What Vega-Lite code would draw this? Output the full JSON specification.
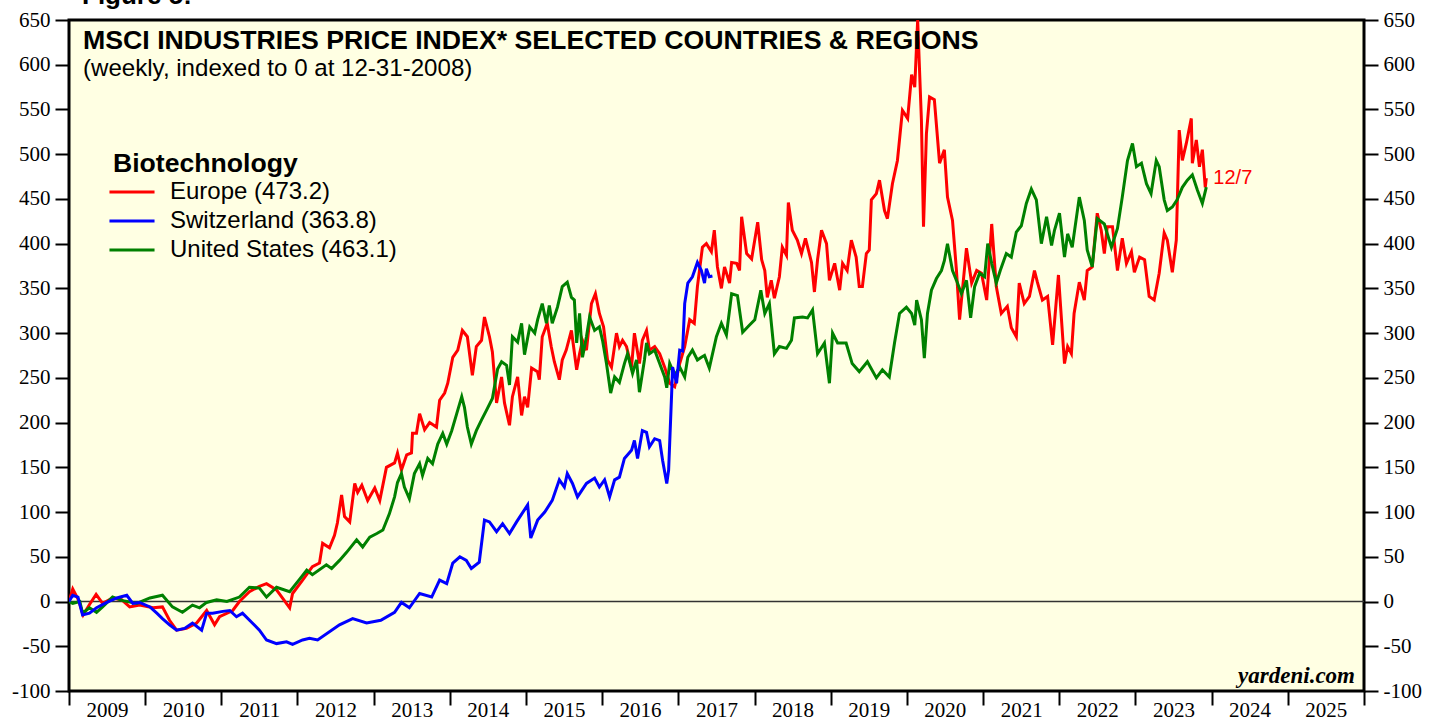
{
 "$schema": "https://vega.github.io/schema/vega-lite/v6.json",
 "width": 1295,
 "height": 671,
 "autosize": {"type": "none"},
 "padding": {"left": 69, "top": 20, "right": 65, "bottom": 30},
 "background": "white",
 "config": {
  "view": {"fill": "#FFFFE3", "stroke": "#000000", "strokeWidth": 3},
  "axis": {"labelFont": "Liberation Serif", "labelFontSize": 21, "labelColor": "#000000", "tickColor": "#000000", "tickWidth": 2, "tickSize": 14, "domain": false, "grid": false, "title": null}
 },
 "datasets": {
  "eu": [
   {"d":"2009-01-01","v":0},{"d":"2009-01-19","v":14},{"d":"2009-02-15","v":2},{"d":"2009-03-10","v":-15},{"d":"2009-04-10","v":-3},{"d":"2009-05-11","v":8},{"d":"2009-06-11","v":-2},{"d":"2009-07-29","v":4},{"d":"2009-09-10","v":2},{"d":"2009-10-19","v":-6},{"d":"2009-12-06","v":-4},
   {"d":"2010-02-08","v":-7},{"d":"2010-03-25","v":-6},{"d":"2010-04-28","v":-21},{"d":"2010-06-01","v":-32},{"d":"2010-07-18","v":-30},{"d":"2010-09-05","v":-24},{"d":"2010-10-23","v":-10},{"d":"2010-11-30","v":-26},{"d":"2010-12-24","v":-17},
   {"d":"2011-02-25","v":-10},{"d":"2011-03-29","v":0},{"d":"2011-05-16","v":11},{"d":"2011-07-03","v":17},{"d":"2011-08-06","v":20},{"d":"2011-09-23","v":13},{"d":"2011-11-25","v":-7},{"d":"2011-12-09","v":9},
   {"d":"2012-01-26","v":24},{"d":"2012-03-13","v":39},{"d":"2012-04-16","v":43},{"d":"2012-05-01","v":65},{"d":"2012-06-03","v":60},{"d":"2012-06-27","v":74},{"d":"2012-07-11","v":88},{"d":"2012-07-31","v":119},{"d":"2012-08-14","v":95},{"d":"2012-09-08","v":89},{"d":"2012-10-02","v":132},{"d":"2012-10-16","v":122},{"d":"2012-11-05","v":130},{"d":"2012-12-03","v":113},
   {"d":"2013-01-06","v":127},{"d":"2013-01-30","v":113},{"d":"2013-03-03","v":150},{"d":"2013-04-11","v":155},{"d":"2013-04-25","v":166},{"d":"2013-05-14","v":147},{"d":"2013-06-08","v":164},{"d":"2013-07-01","v":166},{"d":"2013-07-06","v":188},{"d":"2013-07-25","v":188},{"d":"2013-08-09","v":210},{"d":"2013-09-02","v":192},{"d":"2013-09-26","v":200},{"d":"2013-10-29","v":195},{"d":"2013-11-13","v":225},{"d":"2013-12-07","v":233},{"d":"2013-12-22","v":244},
   {"d":"2014-01-15","v":273},{"d":"2014-02-08","v":281},{"d":"2014-03-02","v":303},{"d":"2014-03-26","v":296},{"d":"2014-04-19","v":253},{"d":"2014-05-08","v":285},{"d":"2014-06-02","v":292},{"d":"2014-06-16","v":318},{"d":"2014-07-10","v":296},{"d":"2014-07-24","v":279},{"d":"2014-08-13","v":222},{"d":"2014-09-06","v":251},{"d":"2014-09-20","v":222},{"d":"2014-10-14","v":197},{"d":"2014-10-28","v":229},{"d":"2014-11-22","v":251},{"d":"2014-12-11","v":208},{"d":"2014-12-25","v":229},
   {"d":"2015-01-09","v":217},{"d":"2015-01-28","v":261},{"d":"2015-02-25","v":257},{"d":"2015-03-06","v":248},{"d":"2015-03-20","v":296},{"d":"2015-04-13","v":311},{"d":"2015-05-02","v":285},{"d":"2015-05-17","v":268},{"d":"2015-06-10","v":248},{"d":"2015-06-24","v":270},{"d":"2015-07-13","v":281},{"d":"2015-08-07","v":303},{"d":"2015-09-01","v":259},{"d":"2015-09-15","v":277},{"d":"2015-09-29","v":292},{"d":"2015-10-18","v":281},{"d":"2015-11-11","v":333},{"d":"2015-11-30","v":344},{"d":"2015-12-19","v":322},
   {"d":"2016-01-08","v":307},{"d":"2016-01-27","v":270},{"d":"2016-02-15","v":262},{"d":"2016-03-10","v":300},{"d":"2016-03-24","v":285},{"d":"2016-04-08","v":292},{"d":"2016-04-27","v":285},{"d":"2016-05-21","v":262},{"d":"2016-06-04","v":300},{"d":"2016-06-28","v":266},{"d":"2016-07-12","v":292},{"d":"2016-08-01","v":303},{"d":"2016-08-15","v":281},{"d":"2016-09-09","v":285},{"d":"2016-10-03","v":277},{"d":"2016-10-27","v":262},{"d":"2016-11-20","v":244},{"d":"2016-12-14","v":240},
   {"d":"2017-01-07","v":266},{"d":"2017-01-31","v":285},{"d":"2017-02-24","v":315},{"d":"2017-03-18","v":311},{"d":"2017-04-02","v":352},{"d":"2017-04-26","v":396},{"d":"2017-05-15","v":400},{"d":"2017-06-08","v":391},{"d":"2017-06-22","v":415},{"d":"2017-07-07","v":374},{"d":"2017-07-26","v":350},{"d":"2017-08-10","v":374},{"d":"2017-09-03","v":356},{"d":"2017-09-13","v":379},{"d":"2017-10-07","v":378},{"d":"2017-10-21","v":370},{"d":"2017-10-31","v":430},{"d":"2017-11-24","v":389},{"d":"2017-12-18","v":383},
   {"d":"2018-01-16","v":424},{"d":"2018-02-04","v":382},{"d":"2018-02-19","v":370},{"d":"2018-03-03","v":340},{"d":"2018-03-22","v":359},{"d":"2018-04-06","v":339},{"d":"2018-04-30","v":363},{"d":"2018-05-14","v":396},{"d":"2018-06-03","v":387},{"d":"2018-06-12","v":446},{"d":"2018-07-01","v":415},{"d":"2018-07-25","v":404},{"d":"2018-08-14","v":389},{"d":"2018-09-02","v":406},{"d":"2018-10-01","v":379},{"d":"2018-10-15","v":346},{"d":"2018-10-30","v":382},{"d":"2018-11-18","v":415},{"d":"2018-12-12","v":400},{"d":"2018-12-26","v":359},
   {"d":"2019-01-20","v":378},{"d":"2019-02-13","v":348},{"d":"2019-02-27","v":378},{"d":"2019-03-21","v":370},{"d":"2019-04-10","v":404},{"d":"2019-05-03","v":385},{"d":"2019-05-18","v":352},{"d":"2019-06-02","v":352},{"d":"2019-06-21","v":389},{"d":"2019-07-05","v":393},{"d":"2019-07-15","v":449},{"d":"2019-08-08","v":456},{"d":"2019-08-23","v":471},{"d":"2019-09-16","v":437},{"d":"2019-09-30","v":428},{"d":"2019-10-24","v":467},{"d":"2019-11-17","v":493},{"d":"2019-12-11","v":549},
   {"d":"2020-01-05","v":540},{"d":"2020-01-24","v":589},{"d":"2020-02-08","v":575},{"d":"2020-02-22","v":650},{"d":"2020-03-11","v":538},{"d":"2020-03-21","v":419},{"d":"2020-04-04","v":523},{"d":"2020-04-19","v":564},{"d":"2020-05-12","v":561},{"d":"2020-06-06","v":490},{"d":"2020-06-29","v":505},{"d":"2020-07-14","v":452},{"d":"2020-08-07","v":426},{"d":"2020-08-26","v":370},{"d":"2020-09-10","v":315},{"d":"2020-10-13","v":395},{"d":"2020-11-07","v":356},{"d":"2020-12-01","v":370},{"d":"2020-12-24","v":367},
   {"d":"2021-01-18","v":337},{"d":"2021-02-11","v":422},{"d":"2021-03-05","v":352},{"d":"2021-03-29","v":322},{"d":"2021-04-27","v":330},{"d":"2021-05-16","v":306},{"d":"2021-06-09","v":296},{"d":"2021-06-23","v":356},{"d":"2021-07-17","v":333},{"d":"2021-08-11","v":341},{"d":"2021-09-04","v":370},{"d":"2021-09-18","v":357},{"d":"2021-10-12","v":337},{"d":"2021-11-06","v":341},{"d":"2021-11-30","v":287},{"d":"2021-12-28","v":365},
   {"d":"2022-01-26","v":266},{"d":"2022-02-10","v":285},{"d":"2022-02-28","v":277},{"d":"2022-03-13","v":322},{"d":"2022-04-07","v":357},{"d":"2022-05-01","v":337},{"d":"2022-05-15","v":370},{"d":"2022-06-08","v":374},{"d":"2022-07-02","v":434},{"d":"2022-07-21","v":415},{"d":"2022-08-05","v":389},{"d":"2022-08-19","v":419},{"d":"2022-09-13","v":419},{"d":"2022-10-07","v":370},{"d":"2022-10-30","v":406},{"d":"2022-11-19","v":378},{"d":"2022-12-13","v":391},{"d":"2022-12-27","v":368},
   {"d":"2023-01-21","v":385},{"d":"2023-02-14","v":382},{"d":"2023-03-08","v":341},{"d":"2023-04-01","v":337},{"d":"2023-04-25","v":367},{"d":"2023-05-19","v":412},{"d":"2023-06-03","v":404},{"d":"2023-06-27","v":368},{"d":"2023-07-16","v":404},{"d":"2023-07-30","v":527},{"d":"2023-08-14","v":493},{"d":"2023-09-02","v":512},{"d":"2023-09-26","v":540},{"d":"2023-10-01","v":490},{"d":"2023-10-20","v":516},{"d":"2023-11-04","v":486},{"d":"2023-11-18","v":505},{"d":"2023-12-02","v":463},{"d":"2023-12-07","v":473.2}
  ],
  "us": [
   {"d":"2009-01-01","v":0},{"d":"2009-01-19","v":-2},{"d":"2009-02-22","v":0},{"d":"2009-03-07","v":-13},{"d":"2009-04-09","v":-7},{"d":"2009-05-13","v":-12},{"d":"2009-06-11","v":-6},{"d":"2009-07-29","v":5},{"d":"2009-09-16","v":1},{"d":"2009-11-22","v":-2},
   {"d":"2010-01-24","v":4},{"d":"2010-03-25","v":7},{"d":"2010-05-12","v":-6},{"d":"2010-06-29","v":-12},{"d":"2010-08-16","v":-4},{"d":"2010-09-19","v":-7},{"d":"2010-10-23","v":-1},{"d":"2010-12-10","v":2},
   {"d":"2011-01-28","v":0},{"d":"2011-03-29","v":5},{"d":"2011-05-16","v":16},{"d":"2011-07-03","v":15},{"d":"2011-08-06","v":5},{"d":"2011-09-23","v":16},{"d":"2011-11-25","v":11},
   {"d":"2012-01-12","v":25},{"d":"2012-02-15","v":35},{"d":"2012-03-13","v":30},{"d":"2012-05-19","v":41},{"d":"2012-06-13","v":37},{"d":"2012-07-21","v":46},{"d":"2012-08-24","v":55},{"d":"2012-10-11","v":69},{"d":"2012-11-09","v":61},{"d":"2012-12-13","v":72},
   {"d":"2013-01-16","v":76},{"d":"2013-02-14","v":80},{"d":"2013-03-17","v":98},{"d":"2013-04-11","v":117},{"d":"2013-04-25","v":133},{"d":"2013-05-14","v":143},{"d":"2013-05-28","v":128},{"d":"2013-06-21","v":115},{"d":"2013-07-15","v":143},{"d":"2013-08-09","v":154},{"d":"2013-08-23","v":141},{"d":"2013-09-17","v":160},{"d":"2013-10-10","v":154},{"d":"2013-11-04","v":176},{"d":"2013-11-28","v":188},{"d":"2013-12-17","v":176},
   {"d":"2014-01-10","v":191},{"d":"2014-02-03","v":210},{"d":"2014-02-27","v":229},{"d":"2014-03-12","v":217},{"d":"2014-03-26","v":195},{"d":"2014-04-14","v":176},{"d":"2014-05-08","v":191},{"d":"2014-06-02","v":203},{"d":"2014-06-26","v":214},{"d":"2014-07-24","v":227},{"d":"2014-08-18","v":260},{"d":"2014-09-06","v":268},{"d":"2014-09-30","v":264},{"d":"2014-10-14","v":242},{"d":"2014-10-28","v":296},{"d":"2014-11-22","v":290},{"d":"2014-12-11","v":311},{"d":"2014-12-25","v":276},
   {"d":"2015-01-19","v":307},{"d":"2015-02-12","v":300},{"d":"2015-02-26","v":315},{"d":"2015-03-20","v":333},{"d":"2015-04-09","v":311},{"d":"2015-04-23","v":331},{"d":"2015-05-07","v":311},{"d":"2015-06-01","v":329},{"d":"2015-06-24","v":352},{"d":"2015-07-18","v":357},{"d":"2015-08-07","v":340},{"d":"2015-08-21","v":337},{"d":"2015-09-01","v":289},{"d":"2015-09-15","v":322},{"d":"2015-09-29","v":273},{"d":"2015-10-18","v":296},{"d":"2015-11-02","v":318},{"d":"2015-11-26","v":303},{"d":"2015-12-19","v":307},
   {"d":"2016-01-03","v":292},{"d":"2016-01-22","v":266},{"d":"2016-02-11","v":233},{"d":"2016-03-01","v":251},{"d":"2016-03-24","v":245},{"d":"2016-04-17","v":266},{"d":"2016-05-02","v":277},{"d":"2016-05-26","v":255},{"d":"2016-06-14","v":270},{"d":"2016-06-28","v":234},{"d":"2016-07-22","v":270},{"d":"2016-08-01","v":289},{"d":"2016-08-15","v":277},{"d":"2016-09-09","v":281},{"d":"2016-10-03","v":266},{"d":"2016-10-27","v":251},{"d":"2016-11-06","v":239},{"d":"2016-11-20","v":266},{"d":"2016-12-14","v":253},
   {"d":"2017-01-07","v":262},{"d":"2017-01-31","v":251},{"d":"2017-02-15","v":273},{"d":"2017-03-09","v":281},{"d":"2017-04-02","v":270},{"d":"2017-04-21","v":273},{"d":"2017-05-06","v":275},{"d":"2017-05-29","v":261},{"d":"2017-07-02","v":296},{"d":"2017-07-26","v":311},{"d":"2017-08-19","v":298},{"d":"2017-09-13","v":344},{"d":"2017-10-11","v":342},{"d":"2017-11-05","v":301},{"d":"2017-12-08","v":309},
   {"d":"2018-01-02","v":315},{"d":"2018-01-31","v":348},{"d":"2018-02-19","v":322},{"d":"2018-03-13","v":333},{"d":"2018-04-06","v":277},{"d":"2018-04-30","v":285},{"d":"2018-06-03","v":283},{"d":"2018-06-27","v":292},{"d":"2018-07-11","v":317},{"d":"2018-08-19","v":318},{"d":"2018-09-12","v":317},{"d":"2018-10-06","v":326},{"d":"2018-10-30","v":277},{"d":"2018-12-02","v":289},{"d":"2018-12-26","v":244},
   {"d":"2019-01-10","v":300},{"d":"2019-02-03","v":289},{"d":"2019-03-16","v":289},{"d":"2019-04-14","v":266},{"d":"2019-05-18","v":257},{"d":"2019-06-26","v":268},{"d":"2019-08-08","v":250},{"d":"2019-09-06","v":259},{"d":"2019-10-09","v":251},{"d":"2019-11-03","v":289},{"d":"2019-11-27","v":322},{"d":"2019-12-30","v":329},
   {"d":"2020-01-24","v":322},{"d":"2020-02-08","v":309},{"d":"2020-02-17","v":337},{"d":"2020-03-11","v":315},{"d":"2020-03-25","v":272},{"d":"2020-04-09","v":322},{"d":"2020-04-28","v":348},{"d":"2020-05-22","v":361},{"d":"2020-06-15","v":370},{"d":"2020-06-29","v":381},{"d":"2020-07-14","v":400},{"d":"2020-08-07","v":370},{"d":"2020-08-26","v":359},{"d":"2020-09-19","v":344},{"d":"2020-10-13","v":359},{"d":"2020-11-02","v":317},{"d":"2020-11-21","v":352},{"d":"2020-12-15","v":367},
   {"d":"2021-01-08","v":363},{"d":"2021-01-23","v":400},{"d":"2021-02-11","v":378},{"d":"2021-03-05","v":356},{"d":"2021-03-24","v":370},{"d":"2021-04-22","v":389},{"d":"2021-05-16","v":385},{"d":"2021-06-09","v":413},{"d":"2021-07-03","v":420},{"d":"2021-07-27","v":445},{"d":"2021-08-20","v":461},{"d":"2021-09-13","v":449},{"d":"2021-10-07","v":400},{"d":"2021-11-01","v":430},{"d":"2021-11-25","v":398},{"d":"2021-12-09","v":415},
   {"d":"2022-01-02","v":434},{"d":"2022-01-26","v":385},{"d":"2022-02-10","v":411},{"d":"2022-03-04","v":396},{"d":"2022-04-07","v":452},{"d":"2022-05-01","v":426},{"d":"2022-05-15","v":393},{"d":"2022-06-08","v":374},{"d":"2022-07-02","v":428},{"d":"2022-08-05","v":422},{"d":"2022-09-08","v":396},{"d":"2022-10-07","v":417},{"d":"2022-10-30","v":452},{"d":"2022-11-24","v":493},{"d":"2022-12-18","v":512},
   {"d":"2023-01-06","v":486},{"d":"2023-01-30","v":490},{"d":"2023-02-23","v":467},{"d":"2023-03-17","v":456},{"d":"2023-04-11","v":493},{"d":"2023-04-25","v":486},{"d":"2023-05-19","v":449},{"d":"2023-06-03","v":437},{"d":"2023-06-27","v":441},{"d":"2023-07-20","v":449},{"d":"2023-08-14","v":463},{"d":"2023-09-07","v":471},{"d":"2023-10-01","v":477},{"d":"2023-10-25","v":460},{"d":"2023-11-18","v":445},{"d":"2023-12-07","v":463.1}
  ],
  "ch": [
   {"d":"2009-01-01","v":0},{"d":"2009-01-19","v":7},{"d":"2009-02-13","v":5},{"d":"2009-03-07","v":-15},{"d":"2009-04-09","v":-13},{"d":"2009-05-13","v":-7},{"d":"2009-07-01","v":-1},{"d":"2009-08-18","v":4},{"d":"2009-10-05","v":7},{"d":"2009-11-03","v":-2},{"d":"2009-12-06","v":-1},
   {"d":"2010-01-24","v":-6},{"d":"2010-02-26","v":-13},{"d":"2010-03-25","v":-19},{"d":"2010-04-28","v":-26},{"d":"2010-06-01","v":-32},{"d":"2010-07-09","v":-30},{"d":"2010-08-16","v":-24},{"d":"2010-09-29","v":-32},{"d":"2010-10-23","v":-13},{"d":"2010-11-21","v":-13},
   {"d":"2011-01-09","v":-11},{"d":"2011-02-11","v":-10},{"d":"2011-03-15","v":-17},{"d":"2011-04-13","v":-13},{"d":"2011-05-30","v":-24},{"d":"2011-07-03","v":-32},{"d":"2011-08-06","v":-43},{"d":"2011-09-23","v":-47},{"d":"2011-11-10","v":-45},{"d":"2011-12-09","v":-48},
   {"d":"2012-01-26","v":-43},{"d":"2012-02-28","v":-41},{"d":"2012-04-07","v":-43},{"d":"2012-07-21","v":-26},{"d":"2012-09-22","v":-19},{"d":"2012-11-28","v":-24},
   {"d":"2013-02-04","v":-21},{"d":"2013-04-11","v":-12},{"d":"2013-05-14","v":-1},{"d":"2013-06-21","v":-7},{"d":"2013-08-09","v":9},{"d":"2013-10-06","v":5},{"d":"2013-11-13","v":24},{"d":"2013-12-17","v":20},
   {"d":"2014-01-15","v":43},{"d":"2014-02-18","v":50},{"d":"2014-03-21","v":46},{"d":"2014-04-14","v":37},{"d":"2014-05-22","v":44},{"d":"2014-06-16","v":91},{"d":"2014-07-10","v":89},{"d":"2014-08-13","v":78},{"d":"2014-09-11","v":87},{"d":"2014-10-14","v":76},{"d":"2014-11-17","v":89},
   {"d":"2015-01-09","v":108},{"d":"2015-01-24","v":71},{"d":"2015-02-26","v":91},{"d":"2015-04-01","v":100},{"d":"2015-05-07","v":113},{"d":"2015-06-10","v":136},{"d":"2015-07-04","v":128},{"d":"2015-07-18","v":143},{"d":"2015-08-12","v":132},{"d":"2015-09-05","v":117},{"d":"2015-10-18","v":132},{"d":"2015-11-26","v":138},{"d":"2015-12-19","v":128},
   {"d":"2016-01-13","v":136},{"d":"2016-02-06","v":117},{"d":"2016-03-01","v":136},{"d":"2016-03-24","v":139},{"d":"2016-04-17","v":160},{"d":"2016-05-21","v":169},{"d":"2016-06-04","v":180},{"d":"2016-06-19","v":160},{"d":"2016-07-12","v":191},{"d":"2016-08-01","v":189},{"d":"2016-08-15","v":173},{"d":"2016-09-09","v":182},{"d":"2016-10-03","v":180},{"d":"2016-10-17","v":158},{"d":"2016-11-06","v":132},{"d":"2016-11-15","v":147},{"d":"2016-11-30","v":236},{"d":"2016-12-04","v":262},{"d":"2016-12-23","v":244},
   {"d":"2017-01-07","v":281},{"d":"2017-01-21","v":280},{"d":"2017-01-31","v":333},{"d":"2017-02-15","v":356},{"d":"2017-03-09","v":363},{"d":"2017-04-02","v":379},{"d":"2017-04-21","v":370},{"d":"2017-05-06","v":356},{"d":"2017-05-15","v":372},{"d":"2017-05-29","v":363},{"d":"2017-06-13","v":363.8}
  ]
 },
 "resolve": {"axis": {"y": "independent"}},
 "layer": [
  {
   "data": {"values": [{"v": 0}]},
   "mark": {"type": "rule", "stroke": "#333333", "strokeWidth": 1.5},
   "encoding": {
    "y": {"field": "v", "type": "quantitative", "scale": {"domain": [-100, 650], "nice": false, "zero": false}, "axis": null}
   }
  },
  {
   "data": {"name": "eu"},
   "mark": {"type": "line", "strokeWidth": 3, "clip": true},
   "encoding": {
    "x": {"field": "d", "type": "temporal",
     "scale": {"type": "utc", "domain": [1230768000000, 1767225600000]},
     "axis": {
      "values": [1230768000000,1262304000000,1293840000000,1325376000000,1356998400000,1388534400000,1420070400000,1451606400000,1483228800000,1514764800000,1546300800000,1577836800000,1609459200000,1640995200000,1672531200000,1704067200000,1735689600000,1767225600000],
      "labelExpr": "utcyear(datum.value) >= 2026 ? '' : '' + utcyear(datum.value)",
      "labelOffset": 38, "labelAlign": "center", "labelBaseline": "alphabetic", "labelPadding": 11,
      "labelFlush": false, "labelOverlap": false, "labelBound": false, "tickSize": 14
     }
    },
    "y": {"field": "v", "type": "quantitative", "scale": {"domain": [-100, 650], "nice": false, "zero": false},
     "axis": {"orient": "left", "values": [-100, -50, 0, 50, 100, 150, 200, 250, 300, 350, 400, 450, 500, 550, 600, 650], "labelExpr": "'' + datum.value", "tickSize": 14, "labelPadding": 5}
    },
    "color": {"datum": "Europe (473.2)", "type": "nominal",
     "scale": {"domain": ["Europe (473.2)", "Switzerland (363.8)", "United States (463.1)"], "range": ["#FF0000", "#0000FF", "#008000"]},
     "legend": {"orient": "none", "legendX": 51, "legendY": 160, "title": null, "labelFont": "Liberation Sans", "labelFontSize": 24, "labelColor": "#000000", "labelLimit": 0, "symbolType": "M-4,0H4", "symbolSize": 127, "symbolStrokeWidth": 3, "labelOffset": 26, "rowPadding": 5, "padding": 0}
    }
   }
  },
  {
   "data": {"name": "us"},
   "mark": {"type": "line", "strokeWidth": 3, "clip": true},
   "encoding": {
    "x": {"field": "d", "type": "temporal", "scale": {"type": "utc", "domain": [1230768000000, 1767225600000]}},
    "y": {"field": "v", "type": "quantitative", "scale": {"domain": [-100, 650], "nice": false, "zero": false}, "axis": null},
    "color": {"datum": "United States (463.1)", "type": "nominal"}
   }
  },
  {
   "data": {"name": "ch"},
   "mark": {"type": "line", "strokeWidth": 3, "clip": true},
   "encoding": {
    "x": {"field": "d", "type": "temporal", "scale": {"type": "utc", "domain": [1230768000000, 1767225600000]}},
    "y": {"field": "v", "type": "quantitative", "scale": {"domain": [-100, 650], "nice": false, "zero": false},
     "axis": {"orient": "right", "values": [-100, -50, 0, 50, 100, 150, 200, 250, 300, 350, 400, 450, 500, 550, 600, 650], "labelExpr": "'' + datum.value", "tickSize": 14, "labelPadding": 5}
    },
    "color": {"datum": "Switzerland (363.8)", "type": "nominal"}
   }
  },
  {
   "data": {"values": [{"d": "2009-01-01", "v": 650}]},
   "mark": {"type": "text", "text": "MSCI INDUSTRIES PRICE INDEX* SELECTED COUNTRIES & REGIONS", "font": "Liberation Sans", "fontWeight": "bold", "fontSize": 26.7, "align": "left", "baseline": "alphabetic", "dx": 14, "dy": 29, "color": "#000000"},
   "encoding": {
    "x": {"field": "d", "type": "temporal", "scale": {"type": "utc", "domain": [1230768000000, 1767225600000]}},
    "y": {"field": "v", "type": "quantitative", "scale": {"domain": [-100, 650], "nice": false, "zero": false}, "axis": null}
   }
  },
  {
   "data": {"values": [{"d": "2009-01-01", "v": 650}]},
   "mark": {"type": "text", "text": "(weekly, indexed to 0 at 12-31-2008)", "font": "Liberation Sans", "fontSize": 24.1, "align": "left", "baseline": "alphabetic", "dx": 14, "dy": 56, "color": "#000000"},
   "encoding": {
    "x": {"field": "d", "type": "temporal", "scale": {"type": "utc", "domain": [1230768000000, 1767225600000]}},
    "y": {"field": "v", "type": "quantitative", "scale": {"domain": [-100, 650], "nice": false, "zero": false}, "axis": null}
   }
  },
  {
   "data": {"values": [{"d": "2009-01-01", "v": 650}]},
   "mark": {"type": "text", "text": "Biotechnology", "font": "Liberation Sans", "fontWeight": "bold", "fontSize": 26.6, "align": "left", "baseline": "alphabetic", "dx": 44, "dy": 152, "color": "#000000"},
   "encoding": {
    "x": {"field": "d", "type": "temporal", "scale": {"type": "utc", "domain": [1230768000000, 1767225600000]}},
    "y": {"field": "v", "type": "quantitative", "scale": {"domain": [-100, 650], "nice": false, "zero": false}, "axis": null}
   }
  },
  {
   "data": {"values": [{"d": "2009-01-01", "v": 650}]},
   "mark": {"type": "text", "text": "Figure 5:", "font": "Liberation Sans", "fontWeight": "bold", "fontSize": 26, "align": "left", "baseline": "alphabetic", "dx": 13, "dy": -16, "color": "#000000"},
   "encoding": {
    "x": {"field": "d", "type": "temporal", "scale": {"type": "utc", "domain": [1230768000000, 1767225600000]}},
    "y": {"field": "v", "type": "quantitative", "scale": {"domain": [-100, 650], "nice": false, "zero": false}, "axis": null}
   }
  },
  {
   "data": {"values": [{"d": "2023-12-07", "v": 473.2}]},
   "mark": {"type": "text", "text": "12/7", "font": "Liberation Sans", "fontSize": 20, "align": "left", "baseline": "middle", "dx": 7, "color": "#FF0000"},
   "encoding": {
    "x": {"field": "d", "type": "temporal", "scale": {"type": "utc", "domain": [1230768000000, 1767225600000]}},
    "y": {"field": "v", "type": "quantitative", "scale": {"domain": [-100, 650], "nice": false, "zero": false}, "axis": null}
   }
  },
  {
   "data": {"values": [{"d": "2026-01-01", "v": -83}]},
   "mark": {"type": "text", "text": "yardeni.com", "font": "Liberation Serif", "fontWeight": "bold", "fontStyle": "italic", "fontSize": 23, "align": "right", "baseline": "middle", "dx": -9, "color": "#000000"},
   "encoding": {
    "x": {"field": "d", "type": "temporal", "scale": {"type": "utc", "domain": [1230768000000, 1767225600000]}},
    "y": {"field": "v", "type": "quantitative", "scale": {"domain": [-100, 650], "nice": false, "zero": false}, "axis": null}
   }
  }
 ]
}
